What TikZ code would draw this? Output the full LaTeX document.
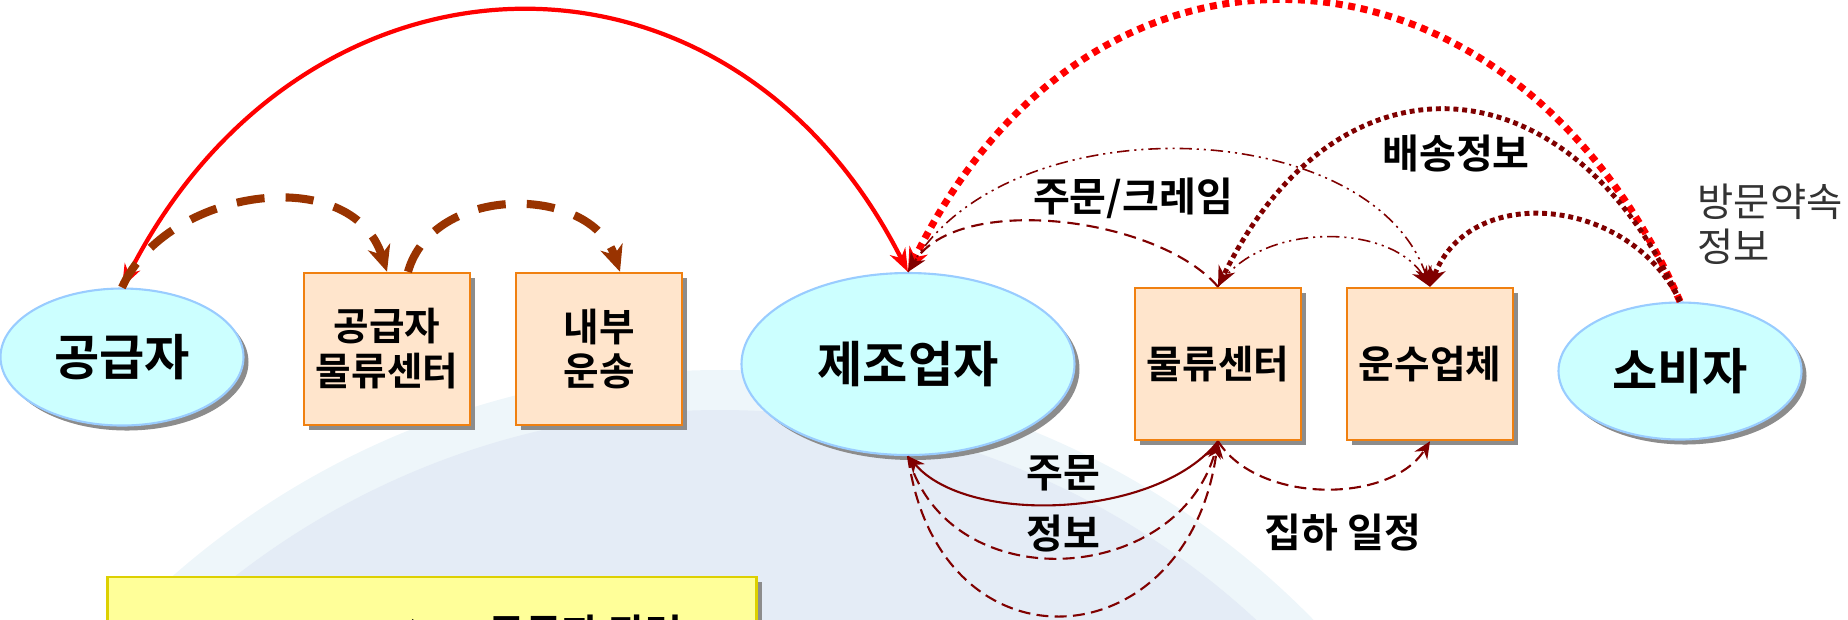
\documentclass[tikz,border=0pt]{standalone}
\usepackage{fontspec}
\setmainfont{Noto Sans CJK KR}[BoldFont={Noto Sans CJK KR Bold}]
\usetikzlibrary{arrows.meta,shapes.geometric,shadows}

\definecolor{ovalfill}{HTML}{CCFFFF}
\definecolor{ovalline}{HTML}{99CCFF}
\definecolor{boxfill}{HTML}{FFE5CC}
\definecolor{boxline}{HTML}{F08010}
\definecolor{brownline}{HTML}{993300}
\definecolor{darkred}{HTML}{800000}
\definecolor{legendfill}{HTML}{FFFF99}
\definecolor{legendline}{HTML}{DDD000}
\definecolor{globefill}{HTML}{E4ECF6}
\definecolor{globerim}{HTML}{EEF6FA}

\tikzset{
    shadowed/.style={drop shadow={shadow xshift=0.5mm,shadow yshift=-0.5mm,fill=black!45,opacity=1}},
    party/.style={ellipse,draw=ovalline,line width=0.6pt,fill=ovalfill,inner sep=0pt,
        minimum width=24.3mm,minimum height=13.7mm,shadowed,
        font=\fontsize{14}{16}\selectfont\bfseries},
    stage/.style={rectangle,draw=boxline,line width=0.7pt,fill=boxfill,inner sep=0pt,
        minimum width=16.6mm,minimum height=15.2mm,align=center,shadowed,
        font=\fontsize{11}{12.8}\selectfont\bfseries},
    lbl/.style={inner sep=0pt,font=\fontsize{11.4}{13}\selectfont\bfseries},
    note/.style={inner sep=0pt,align=left,text=black!80,font=\fontsize{11.2}{12.8}\selectfont},
    supplyarc/.style={red,line width=1.2pt,
        {Stealth[length=2.3mm,width=1.7mm]}-{Stealth[length=2.3mm,width=1.7mm]}},
    custarc/.style={red,line width=2pt,dash pattern=on 2pt off 1.6pt,
        -{Stealth[length=2.4mm,width=2mm]}},
    insidearc/.style={brownline,line width=2.3pt,dash pattern=on 8pt off 6pt,
        -{Stealth[length=2.6mm,width=2.3mm,inset=0.8mm]}},
    shiparc/.style={darkred,line width=1.4pt,dash pattern=on 1.4pt off 1.1pt,
        -{Stealth[length=2mm,width=1.8mm]}},
    claimarc/.style={darkred,line width=0.45pt,
        dash pattern=on 3.5pt off 1.4pt on 0.6pt off 1.4pt on 0.6pt off 1.4pt,
        -{Stealth[length=2mm,width=1.7mm]}},
    orderarc/.style={darkred,line width=0.6pt,dash pattern=on 3.5pt off 2pt,
        -{Stealth[length=1.9mm,width=1.7mm]}},
    botarc/.style={darkred,line width=0.6pt,-{Stealth[length=1.7mm,width=1.5mm]}},
    botdash/.style={botarc,dash pattern=on 3.4pt off 1.8pt},
}

\begin{document}
\begin{tikzpicture}[x=0.1mm,y=-0.1mm]
    \useasboundingbox (0,0) rectangle (1848,619);
    % Globe in the backdrop
    \fill[globerim] (720,1200) circle (830);
    \fill[globefill] (720,1200) circle (790);
    % Parties
    \node[party] (sup) at (122,357) {공급자};
    \node[party,minimum width=33.3mm,minimum height=18.2mm] (mfr) at (908,364) {제조업자};
    \node[party] (cons) at (1680,371) {소비자};
    % Stages
    \node[stage] (b1) at (387,349) {공급자\\물류센터};
    \node[stage] (b2) at (599,349) {내부\\운송};
    \node[stage] (b3) at (1218,364) {물류센터};
    \node[stage] (b4) at (1430,364) {운수업체};
    % Legend
    \node[rectangle,draw=legendline,line width=0.7pt,fill=legendfill,shadowed,
        minimum width=64.9mm,minimum height=12.6mm] (lgd) at (432,640) {};
    \coordinate (lgA) at (250,630);
    \coordinate (lgB) at (432,630);
    \draw[line width=0.8pt,-{Stealth[length=2mm,width=2.2mm]}] (lgA) -- (lgB);
    \node[lbl,anchor=base west] (lgdtxt) at (488,648) {공급자 관련};
    % Supplier side
    \draw[supplyarc] (sup.north) .. controls +(180,-357) and +(-180,-357) .. (mfr.north);
    \draw[insidearc] (sup.north) .. controls +(45,-100) and +(-35,-110) .. (b1.north);
    \draw[insidearc] ([xshift=2.1mm]b1.north) .. controls +(25,-88) and +(-30,-88) .. ([xshift=2.1mm]b2.north);
    % Customer side
    \draw[custarc] (cons.north) .. controls +(-165,-380) and +(185,-380) .. (mfr.north);
    \draw[shiparc] (cons.north) .. controls +(-110,-245) and +(120,-245) .. (b3.north);
    \draw[shiparc] (cons.north) .. controls +(-50,-105) and +(40,-105) .. (b4.north);
    \draw[claimarc] (mfr.north) .. controls +(90,-170) and +(-60,-175) .. (b4.north);
    \draw[claimarc] (b3.north) .. controls +(40,-65) and +(-40,-65) .. (b4.north);
    \draw[orderarc] (b3.north) .. controls +(-60,-70) and +(50,-80) .. (mfr.north);
    % Below
    \draw[botarc] (b3.south) .. controls +(-60,77) and +(60,70) .. (mfr.south);
    \draw[botdash] (mfr.south) .. controls +(40,145) and +(-40,145) .. (b3.south);
    \draw[botdash] (mfr.south) .. controls +(30,222) and +(-30,222) .. (b3.south);
    \draw[botdash] (b3.south) .. controls +(40,63) and +(-40,63) .. (b4.south);
    % Labels
    \node[lbl] (claim) at (1133,198) {주문/크레임};
    \node[lbl] (ship) at (1456,154) {배송정보};
    \node[note,anchor=west] (visit) at (1697,224) {방문약속\\정보};
    \node[lbl] (order) at (1063,473) {주문};
    \node[lbl] (info) at (1063,534) {정보};
    \node[lbl] (pick) at (1343,533) {집하 일정};
\end{tikzpicture}
\end{document}
